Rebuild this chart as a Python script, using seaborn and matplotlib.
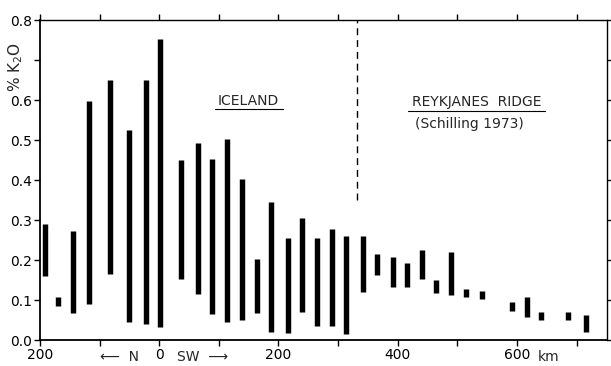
import matplotlib
matplotlib.use("Agg")
import matplotlib.pyplot as plt
import matplotlib.transforms as mtransforms
import pandas as pd
import seaborn as sns

# distance along the ridge axis, km (negative = north of 0)
km = [-192, -169, -145, -118, -83, -51, -22, 1, 36, 65, 89, 113, 139, 164, 188, 216,
      239, 265, 290, 313, 341, 366, 392, 415, 440, 464, 490, 515, 541, 592, 617, 640, 686, 715]
# K2O range per locality, wt %
k2o_lo = [0.161, 0.086, 0.067, 0.089, 0.164, 0.044, 0.039, 0.032, 0.152, 0.114, 0.064, 0.044,
          0.050, 0.068, 0.019, 0.017, 0.069, 0.036, 0.035, 0.014, 0.121, 0.163, 0.132, 0.132,
          0.152, 0.117, 0.113, 0.108, 0.102, 0.073, 0.058, 0.050, 0.050, 0.021]
k2o_hi = [0.289, 0.108, 0.272, 0.597, 0.650, 0.525, 0.650, 0.752, 0.450, 0.492, 0.453, 0.502,
          0.402, 0.202, 0.346, 0.255, 0.305, 0.254, 0.277, 0.260, 0.259, 0.215, 0.208, 0.193,
          0.225, 0.150, 0.221, 0.128, 0.122, 0.094, 0.107, 0.070, 0.069, 0.063]

xtick_pos = [-200, -100, 0, 100, 200, 300, 400, 500, 600, 700]
xtick_lab = ['200', '', '0', '', '200', '', '400', '', '600', '']
ytick_pos = [0.0, 0.1, 0.2, 0.3, 0.4, 0.5, 0.6, 0.7, 0.8]
ytick_lab = ['0.0', '0.1', '0.2', '0.3', '0.4', '0.5', '0.6', '', '0.8']
boundary_km = 331

# long form: two rows (low, high) per bar
rows = []
for i, (x, lo, hi) in enumerate(zip(km, k2o_lo, k2o_hi)):
    rows.append({'bar': i, 'km': x, 'k2o': lo})
    rows.append({'bar': i, 'km': x, 'k2o': hi})
df = pd.DataFrame(rows)

sns.set_style('ticks')
plt.rcParams['font.family'] = ['DejaVu Sans']
plt.rcParams['font.size'] = 10

fig = plt.figure(figsize=(6.11, 3.66), dpi=100)
ax = fig.add_axes([40 / 611, 26 / 366, 567 / 611, 320 / 366])

sns.lineplot(data=df, x='km', y='k2o', units='bar', estimator=None, sort=False,
             color='black', lw=3.9, solid_capstyle='butt', ax=ax, legend=False)

ax.plot([boundary_km, boundary_km], [0.35, 0.8], color='black', lw=1,
        linestyle=(0, (5, 3.5)))

ax.set_xlim(-200, 751)
ax.set_ylim(0, 0.8)
ax.set_xticks(xtick_pos)
ax.set_xticklabels(xtick_lab)
ax.set_yticks(ytick_pos)
ax.set_yticklabels(ytick_lab)
ax.tick_params(axis='both', direction='out', color='black', labelcolor='black',
               labelsize=10, width=1, length=4, pad=2)
ax.tick_params(top=True, right=True)
for s in ax.spines.values():
    s.set_visible(True)
    s.set_color('black')
    s.set_linewidth(1)
ax.spines['left'].set_linewidth(1.3)
ax.spines['bottom'].set_linewidth(1.3)

ax.set_xlabel('')
ax.set_ylabel('% K$_2$O', fontsize=11)
ax.yaxis.set_label_coords(-0.027, 0.853)

trans = mtransforms.blended_transform_factory(ax.transData, ax.transAxes)
ax.text(-34, -0.032, '⟵  N', transform=trans, ha='right', va='top', fontsize=10)
ax.text(29, -0.032, 'SW  ⟶', transform=trans, ha='left', va='top', fontsize=10)
ax.text(635, -0.032, 'km', transform=trans, ha='left', va='top', fontsize=10)

ax.text(150, 0.597, 'ICELAND', ha='center', va='center', fontsize=10)
ax.plot([94, 208], [0.577, 0.577], color='black', lw=0.8)
ax.text(532, 0.595, 'REYKJANES  RIDGE', ha='center', va='center', fontsize=10)
ax.plot([418, 647], [0.572, 0.572], color='black', lw=0.8)
ax.text(521, 0.54, '(Schilling 1973)', ha='center', va='center', fontsize=10)

fig.savefig('out.png', dpi=100)
